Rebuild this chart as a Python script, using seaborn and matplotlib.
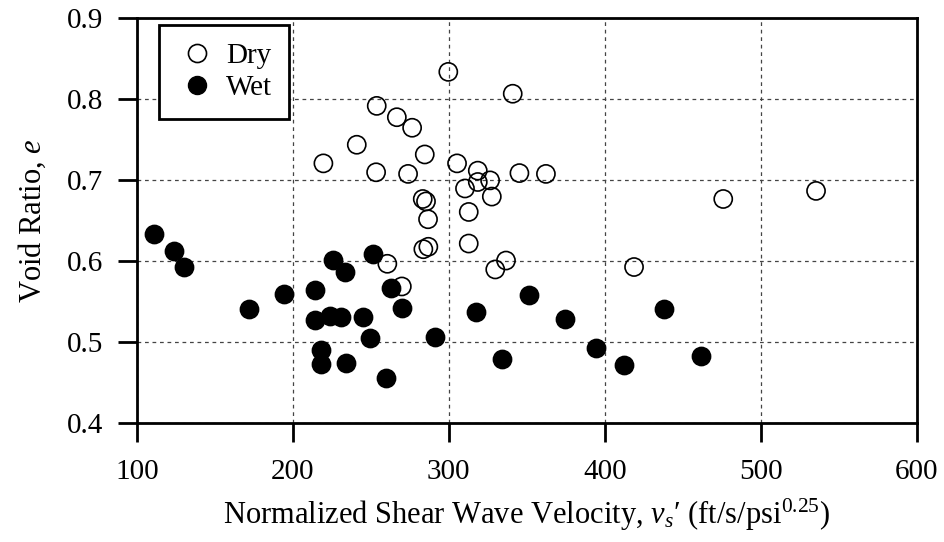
import numpy as np
import pandas as pd
import seaborn as sns
import matplotlib.pyplot as plt
from matplotlib.lines import Line2D

# Dry specimens (open circles)
dry_vs = [299.7, 341.0, 253.8, 266.7, 276.5, 241.0, 284.6, 219.6, 253.4, 273.9,
          305.3, 318.6, 326.5, 318.6, 345.3, 362.3, 310.4, 327.6, 283.3, 285.4,
          312.8, 286.7, 312.8, 283.7, 286.9, 260.6, 269.9, 329.8, 336.7, 418.8,
          476.0, 535.5]
dry_e = [0.834, 0.807, 0.792, 0.778, 0.765, 0.744, 0.732, 0.721, 0.710, 0.708,
         0.721, 0.712, 0.700, 0.698, 0.709, 0.708, 0.690, 0.680, 0.677, 0.674,
         0.661, 0.652, 0.622, 0.615, 0.618, 0.597, 0.569, 0.590, 0.601, 0.593,
         0.677, 0.687]

# Wet specimens (filled circles)
wet_vs = [110.7, 123.5, 129.9, 172.0, 194.4, 214.3, 226.0, 233.5, 251.7, 262.8,
          270.3, 214.3, 223.9, 230.8, 244.9, 249.6, 217.9, 217.9, 233.9, 259.6,
          291.2, 317.7, 351.5, 374.6, 334.0, 394.4, 412.4, 438.2, 461.5]
wet_e = [0.634, 0.613, 0.593, 0.541, 0.560, 0.565, 0.602, 0.587, 0.609, 0.567,
         0.543, 0.528, 0.532, 0.531, 0.531, 0.505, 0.490, 0.473, 0.475, 0.456,
         0.507, 0.537, 0.558, 0.529, 0.479, 0.493, 0.472, 0.541, 0.483]

x_ticks = [100, 200, 300, 400, 500, 600]
y_ticks = [0.4, 0.5, 0.6, 0.7, 0.8, 0.9]

dry = pd.DataFrame({"vs": dry_vs, "e": dry_e})
wet = pd.DataFrame({"vs": wet_vs, "e": wet_e})

sns.set_style("ticks")
plt.rcParams["font.family"] = ["Liberation Serif", "DejaVu Serif"]
plt.rcParams["mathtext.fontset"] = "custom"
plt.rcParams["mathtext.rm"] = "Liberation Serif"
plt.rcParams["mathtext.it"] = "Liberation Serif:italic"
plt.rcParams["text.color"] = "black"
plt.rcParams["axes.labelcolor"] = "black"

fig = plt.figure(figsize=(9.44, 5.42), dpi=100)
ax = fig.add_axes([0.145, 0.219, 0.826, 0.747])

sns.scatterplot(data=wet, x="vs", y="e", ax=ax, s=170, color="black",
                edgecolor="black", linewidth=1.2, zorder=3)
sns.scatterplot(data=dry, x="vs", y="e", ax=ax, s=170, facecolor="none",
                edgecolor="black", linewidth=1.2, zorder=4)

ax.set_xlim(100, 600)
ax.set_ylim(0.4, 0.9)
ax.set_xticks(x_ticks)
ax.set_yticks(y_ticks)
ax.set_yticklabels([f"{v:.1f}" for v in y_ticks])
ax.grid(True, linestyle=(0, (3, 3)), color="#444444", linewidth=0.9)
ax.set_axisbelow(True)

for sp in ax.spines.values():
    sp.set_linewidth(2)
    sp.set_color("black")
ax.tick_params(axis="both", direction="out", length=14, width=2,
               labelsize=21, colors="black")
ax.tick_params(axis="x", pad=12)
ax.tick_params(axis="y", pad=10)

ax.set_xlabel(r"Normalized Shear Wave Velocity, $v_s$′ (ft/s/psi$^{0.25}$)",
              fontsize=22, labelpad=8)
ax.set_ylabel(r"Void Ratio, $e$", fontsize=22, labelpad=14)

handles = [
    Line2D([], [], marker="o", linestyle="none", markersize=13,
           markerfacecolor="none", markeredgecolor="black", markeredgewidth=1.2),
    Line2D([], [], marker="o", linestyle="none", markersize=13,
           markerfacecolor="black", markeredgecolor="black"),
]
leg = ax.legend(handles, ["Dry", "Wet"], loc="upper left", fontsize=21,
                frameon=True, fancybox=False, handletextpad=0.3,
                borderpad=0.6, labelspacing=0.2, handlelength=1.4,
                borderaxespad=0, bbox_to_anchor=(0.028, 0.983))
leg.get_frame().set_edgecolor("black")
leg.get_frame().set_linewidth(2)
leg.get_frame().set_alpha(1)

fig.savefig("out.png", dpi=100)
